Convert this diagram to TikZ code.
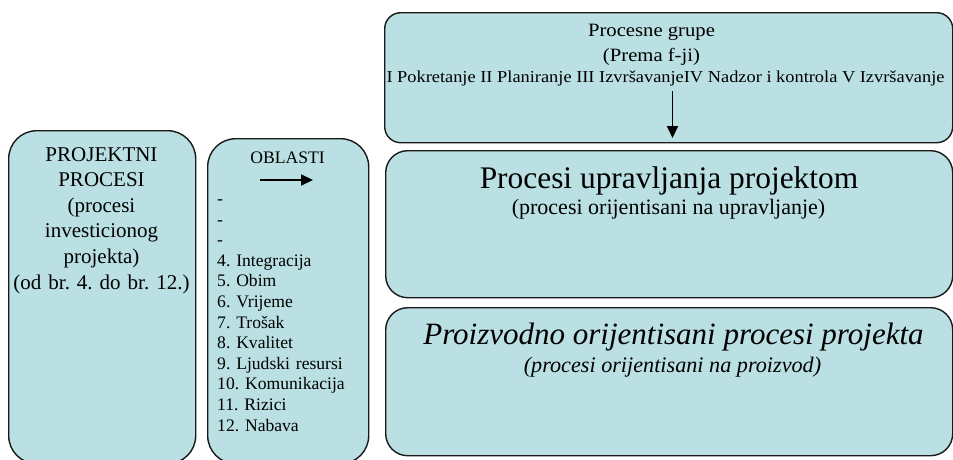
\documentclass[tikz,border=0pt]{standalone}
\usepackage{fontspec}
\setmainfont{Liberation Serif}
\newfontfamily\widefont[FakeStretch=1.1]{Liberation Serif}
\usetikzlibrary{positioning,arrows.meta}
\definecolor{boxfill}{RGB}{186,224,227}
\newcommand{\fs}[2]{\fontsize{#1}{#2}\selectfont}
\frenchspacing

\begin{document}
\begin{tikzpicture}[x=1pt,y=-1pt,
    box/.style={draw=black!90, line width=1.4pt, fill=boxfill, rounded corners=#1, anchor=north west, inner sep=0pt},
    box/.default=28pt,
    arr/.style={line width=1.8pt, -{Triangle[length=12pt,width=11pt]}}]
    \useasboundingbox (0,0) rectangle (953,459);
    % boxes
    \node[box, minimum width=187, minimum height=333] (projektni) at (8,130) {};
    \node[box, minimum width=161, minimum height=325] (oblasti) at (207,138) {};
    \node[box=16pt, minimum width=568, minimum height=130] (grupe) at (384,12) {};
    \node[box=22pt, minimum width=567, minimum height=147] (upravljanje) at (385,150) {};
    \node[box=22pt, minimum width=567, minimum height=148] (proizvod) at (385,307) {};
    % left texts
    \node[anchor=base, text width=185, align=center, font=\fs{21}{25.6}] (tprojektni) at (101.5,161)
        {PROJEKTNI\\PROCESI\\(procesi\\investicionog\\projekta)\\(od br. 4. do br. 12.)};
    \node[anchor=base, font=\fs{17.6}{20.6}] (toblasti) at (287.5,163) {OBLASTI};
    \node[anchor=base west, text width=150, align=left, inner sep=0pt, font=\fs{17.6}{20.6}] (lista) at (217,204.5)
        {-\\-\\-\\4. Integracija\\5. Obim\\6. Vrijeme\\7. Trošak\\8. Kvalitet\\9. Ljudski resursi\\10. Komunikacija\\11. Rizici\\12. Nabava};
    \coordinate (o1) at (260,180);
    \coordinate (o2) at (313,180);
    \draw[arr] (o1) -- (o2);
    % right texts
    \node[anchor=base, inner sep=0pt, font=\widefont\fs{18.8}{20}] (tgrupe) at (651.5,36) {Procesne grupe};
    \node[anchor=base, inner sep=0pt, font=\widefont\fs{18.8}{20}] (tfji) at (651.5,61) {(Prema f-ji)};
    \node[anchor=base, inner sep=0pt, font=\widefont\fs{16.7}{18}] (tfaze) at (665.5,82)
        {I Pokretanje II Planiranje III IzvršavanjeIV Nadzor i kontrola V Izvršavanje};
    \coordinate (g1) at (672.5,91);
    \coordinate (g2) at (672.5,138);
    \draw[arr] (g1) -- (g2);
    \node[anchor=base, font=\fs{31.4}{34}] (tupr) at (669,188) {Procesi upravljanja projektom};
    \node[anchor=base, font=\fs{22}{24}] (tupr2) at (668.5,214) {(procesi orijentisani na upravljanje)};
    \node[anchor=base, font=\fs{31}{34}\itshape] (tpro) at (673.5,344) {Proizvodno orijentisani procesi projekta};
    \node[anchor=base, font=\fs{22.2}{24}\itshape] (tpro2) at (672.5,372) {(procesi orijentisani na proizvod)};
\end{tikzpicture}
\end{document}
